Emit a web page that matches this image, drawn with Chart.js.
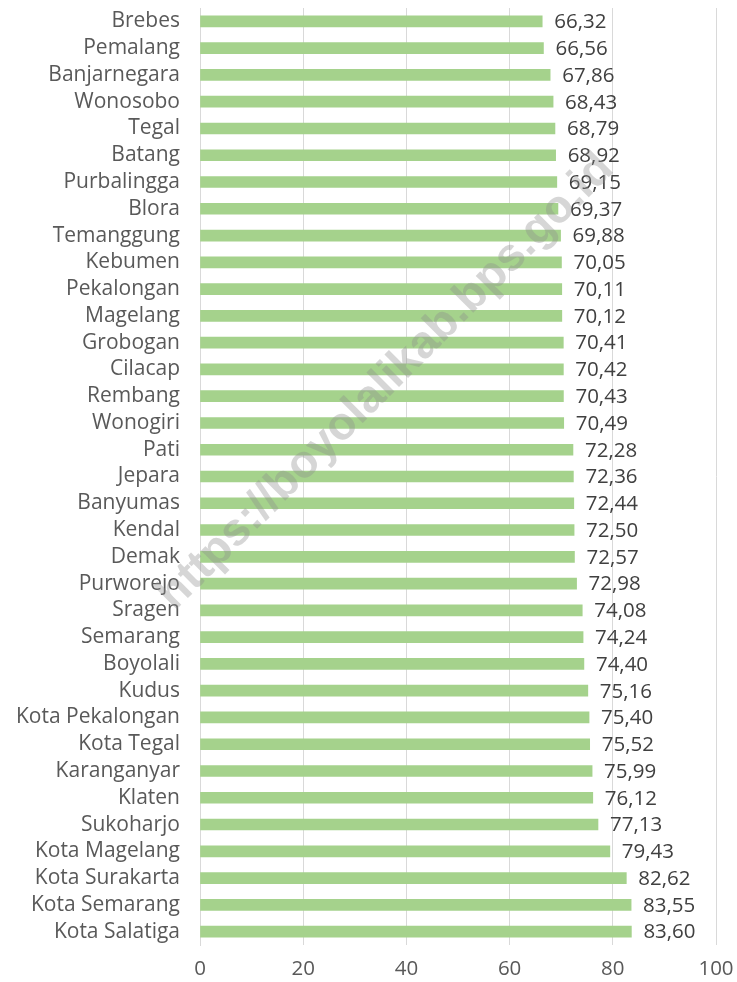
<!DOCTYPE html>
<html>
<head>
<meta charset="utf-8">
<title>Kabupaten/Kota Jawa Tengah</title>
<script src="https://cdn.jsdelivr.net/npm/chart.js@4"></script>
<style>
  html, body { margin: 0; padding: 0; background: #fff; }
  canvas { display: block; }
</style>
</head>
<body>
<canvas id="chart" width="737" height="982"></canvas>
<script>
'use strict';

// Kabupaten/kota, urut dari nilai terendah
const categories = [
  'Brebes', 'Pemalang', 'Banjarnegara', 'Wonosobo', 'Tegal', 'Batang',
  'Purbalingga', 'Blora', 'Temanggung', 'Kebumen', 'Pekalongan', 'Magelang',
  'Grobogan', 'Cilacap', 'Rembang', 'Wonogiri', 'Pati', 'Jepara', 'Banyumas',
  'Kendal', 'Demak', 'Purworejo', 'Sragen', 'Semarang', 'Boyolali', 'Kudus',
  'Kota Pekalongan', 'Kota Tegal', 'Karanganyar', 'Klaten', 'Sukoharjo',
  'Kota Magelang', 'Kota Surakarta', 'Kota Semarang', 'Kota Salatiga'
];

const values = [
  66.32, 66.56, 67.86, 68.43, 68.79, 68.92,
  69.15, 69.37, 69.88, 70.05, 70.11, 70.12,
  70.41, 70.42, 70.43, 70.49, 72.28, 72.36, 72.44,
  72.50, 72.57, 72.98, 74.08, 74.24, 74.40, 75.16,
  75.40, 75.52, 75.99, 76.12, 77.13,
  79.43, 82.62, 83.55, 83.60
];

const xTicks = [0, 20, 40, 60, 80, 100];

const FONT = "'Open Sans', sans-serif";
const fmt = v => v.toFixed(2).replace('.', ',');

// ── Angka di ujung batang ──
const valueLabels = {
  id: 'valueLabels',
  afterDatasetsDraw(chart) {
    const ctx  = chart.ctx;
    const meta = chart.getDatasetMeta(0);
    ctx.save();
    ctx.font = `20.5px ${FONT}`;
    ctx.fillStyle = '#404040';
    ctx.textAlign = 'left';
    ctx.textBaseline = 'middle';
    meta.data.forEach((bar, i) => {
      ctx.fillText(fmt(values[i]), bar.x + 12, bar.y + 1);
    });
    ctx.restore();
  }
};

// ── Watermark ──
const watermark = {
  id: 'watermark',
  afterDraw(chart) {
    const ctx = chart.ctx;
    ctx.save();
    ctx.translate(386, 382);
    ctx.rotate(-45 * Math.PI / 180);
    ctx.font = `bold 46px 'Liberation Sans', Arial, sans-serif`;
    ctx.fillStyle = 'rgba(140,140,140,0.36)';
    ctx.textAlign = 'center';
    ctx.textBaseline = 'middle';
    ctx.fillText('https://boyolalikab.bps.go.id', 0, 0);
    ctx.restore();
  }
};

// chart area dikunci: kiri 200, kanan 716, atas 8
const noEdgePadding = scale => {
  scale.paddingTop = 0;
  scale.paddingBottom = 0;
  scale.paddingLeft = 0;
  scale.paddingRight = 0;
};

new Chart(document.getElementById('chart'), {
  type: 'bar',
  data: {
    labels: categories,
    datasets: [{
      data: values,
      backgroundColor: '#a5d28c',
      borderWidth: 0,
      barThickness: 11,
    }]
  },
  options: {
    indexAxis: 'y',
    responsive: false,
    animation: false,
    layout: { padding: { top: 8, right: 21, left: 0, bottom: 0 } },
    plugins: {
      legend:  { display: false },
      tooltip: { enabled: false },
    },
    scales: {
      x: {
        min: 0,
        max: 100,
        afterBuildTicks: scale => { scale.ticks = xTicks.map(v => ({ value: v })); },
        afterFit: scale => { noEdgePadding(scale); scale.height = 37; },
        ticks: { color: '#595959', font: { family: FONT, size: 20.5 }, padding: 12, maxRotation: 0 },
        grid:  { color: '#d9d9d9', drawTicks: false },
        border: { display: false },
      },
      y: {
        afterFit: scale => { noEdgePadding(scale); scale.width = 200; },
        ticks: { color: '#595959', font: { family: FONT, size: 21 }, padding: 20, autoSkip: false },
        grid:  { display: false, drawTicks: false },
        border: { display: true, color: '#d9d9d9' },
      }
    }
  },
  plugins: [valueLabels, watermark]
});
</script>
</body>
</html>
